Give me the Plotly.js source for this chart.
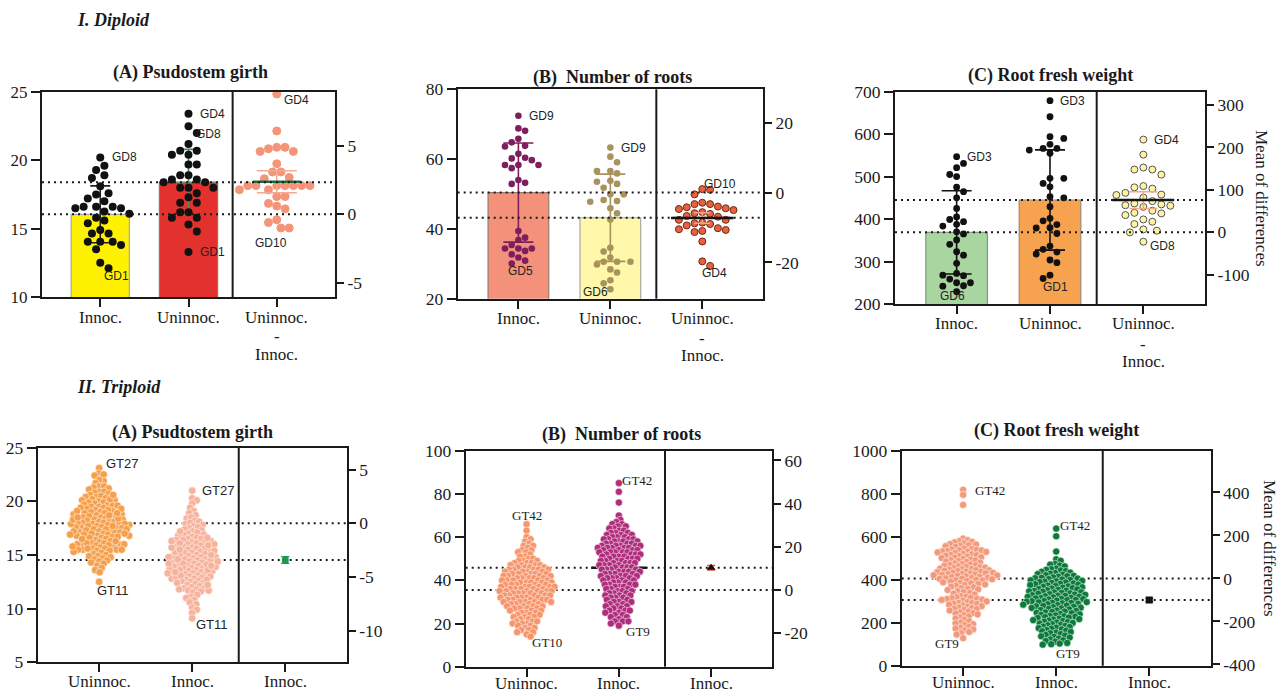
<!DOCTYPE html>
<html><head><meta charset="utf-8">
<script src="https://cdn.plot.ly/plotly-3.0.1.min.js"></script>
<style>html,body{margin:0;padding:0;background:#fff}#chart{width:1282px;height:693px}</style>
</head><body><div id="chart"></div>
<script>
// ---------------- DATA ----------------
const catsDip = ['Innoc.', 'Uninnoc.', 'Uninnoc.<br>-<br>Innoc.'];
const catsTri = ['Uninnoc.', 'Innoc.', 'Innoc.'];

// I. Diploid (A) Psudostem girth
const dipGirthInnoc = [20.2,19.6,19.3,18.9,18.7,18.1,17.6,17.5,17.2,17.0,16.6,16.6,16.6,16.5,16.5,16.25,16.1,15.8,15.6,15.4,14.9,14.65,14.65,14.05,14.05,14.05,13.8,13.5,12.5,12.1];
const dipGirthUninnoc = [23.4,22.5,22.0,21.2,20.7,20.7,20.4,20.4,19.7,19.7,18.9,18.9,18.6,18.6,18.4,18.4,18.0,18.0,18.0,17.6,17.3,16.9,16.9,16.2,16.2,15.8,15.8,15.3,14.8,13.3];
const dipGirthDiff = [8.8,6.1,4.9,4.9,4.8,4.6,4.6,3.7,3.1,3.1,2.7,2.6,2.1,2.1,2.1,2.1,2.1,2.1,2.1,1.8,1.8,1.3,1.3,0.8,0.6,0.4,-0.4,-0.6,-1.0,-1.0];
const dipGirthMeans = [16.05, 18.4];
const dipGirthSD = [2.08, 2.4];
const dipGirthDiffMean = 2.38, dipGirthDiffErr = 0.8;

// I. Diploid (B) Number of roots
const dipRootsInnoc = [72.4,68.1,68.8,64.8,65.8,63.6,63.8,61.5,60.2,59.7,60.4,58.3,58.3,58.3,57.4,54.0,53.2,52.9,39.4,37.5,36.8,35.4,34.4,34.4,34.4,33.7,32.7,31.8,30.9,30.1];
const dipRootsUninnoc = [63.3,60.7,59.1,56.6,56.6,55.9,53.5,52.9,51.8,53.8,49.9,49.9,48.3,47.8,48.0,45.9,44.5,42.7,34.6,33.5,31.8,30.6,30.6,30.6,29.8,28.4,27.5,25.3,24.4,22.7];
const dipRootsDiff = [0.8,1.0,-0.5,-2.9,-3.3,-3.3,-4.0,-4.2,-4.5,-4.7,-5.0,-5.6,-5.9,-6.1,-6.7,-6.9,-7.8,-7.8,-8.6,-8.8,-9.0,-9.4,-10.2,-10.5,-10.7,-11.0,-11.3,-14.0,-19.7,-21.0];
const dipRootsMeans = [50.4, 43.2];
const dipRootsSD = [14.2, 12.5];
const dipRootsDiffMean = -7.3, dipRootsDiffErr = 1.5;

// I. Diploid (C) Root fresh weight
const dipWtInnoc = [546.9,531,521,505,500,475,464.5,450,425,405,399,394,387.6,383.6,370,365,350.7,340.5,323,315,295.7,266.7,268,272,258.8,250,250,242,243,229];
const dipWtUninnoc = [678.8,641,594,590,576,566.5,566.5,562.6,555,496,496,484,476,452.7,450,429,401.7,396,379,379.7,387,366,336.5,328.7,322.4,317.7,303.6,297.3,268,260];
const dipWtDiff = [218.5,183,152.7,148,148,136,109,106,103,93,89,88,82,73.6,68,65.8,64,62.6,60,51,46,44.6,40.7,30.5,25,19.6,7,4,0,-22];
const dipWtMeans = [368.7, 444.9];
const dipWtSD = [98, 118];
const dipWtDiffMean = 76, dipWtDiffErr = 19.5;

// II. Triploid (A) Psudtostem girth
const triGirthUninnoc = [23.1,22.6,22.4,22.5,21.9,22.0,21.7,21.4,21.3,21.4,21.1,21.2,20.9,20.8,20.9,20.6,20.7,20.4,20.5,20.3,20.4,20.1,20.2,20.0,19.9,20.1,19.8,19.7,19.9,19.6,19.5,19.7,19.4,19.5,19.3,19.2,19.4,19.1,19.0,19.2,18.9,19.0,18.8,18.9,18.7,18.6,18.8,18.5,18.6,18.4,18.3,18.5,18.2,18.3,18.1,18.2,18.0,18.1,17.9,18.0,17.8,17.9,17.7,17.8,17.6,17.9,17.5,17.7,17.4,17.6,17.3,17.5,17.2,17.4,17.1,17.3,17.0,17.2,16.9,17.1,16.8,17.0,16.7,16.9,16.6,16.8,16.5,16.7,16.4,16.6,16.3,16.2,16.1,16.0,16.0,16.1,15.9,16.0,15.8,15.9,16.0,15.7,15.6,15.5,15.6,15.5,15.4,15.5,15.3,15.4,15.2,15.1,15.0,14.9,14.8,14.9,14.7,14.6,14.5,14.3,14.4,14.2,14.0,13.8,13.6,13.4,12.5,18.4,18.0,17.6,17.2,16.8,18.7,19.1,19.6,16.1,15.6,17.9,18.3,17.4,16.5,19.3,18.9,17.0,16.3,15.8,20.2,20.6,18.5,17.7,16.9,15.5];
const triGirthInnoc = [21.0,20.3,20.1,19.8,19.4,19.1,18.9,18.7,18.4,18.5,18.2,18.1,17.9,18.0,17.7,17.8,17.5,17.6,17.3,17.4,17.2,17.0,17.1,16.9,16.8,16.7,16.9,16.5,16.6,16.4,16.5,16.3,16.2,16.4,16.1,16.0,16.2,15.9,15.8,16.0,15.7,15.6,15.8,15.5,15.4,15.6,15.3,15.2,15.4,15.1,15.0,15.2,14.9,14.8,15.0,14.7,14.6,14.8,14.5,14.4,14.6,14.3,14.2,14.4,14.1,14.0,14.2,13.9,13.8,14.0,13.7,13.6,13.8,13.5,13.4,13.6,13.3,13.2,13.5,13.1,13.0,13.2,12.9,12.8,13.0,12.7,12.6,12.8,12.5,12.4,12.6,12.3,12.2,12.0,12.1,11.9,11.8,11.7,11.9,11.6,11.5,11.7,11.3,11.1,11.0,10.8,10.6,10.4,10.1,9.9,9.6,9.1,14.5,14.1,13.7,14.9,15.3,13.9,13.3,14.4,15.0,15.7,16.1,12.9,13.6,14.8,14.2,16.6,12.4,13.1,15.5,14.0,17.2,12.7,11.8,15.9,13.4,14.6,16.3,12.2];
const triGirthMeans = [17.95, 14.53];
const triGirthDiff = -3.42, triGirthDiffErr = 0.3;

// II. Triploid (B) Number of roots
const triRootsUninnoc = [66,63,60,59,58,57,56,56,55,54,54,53,53,52,51,51,50,50,49,49,49,48,48,48,47,47,47,47,46,46,46,46,45,45,45,45,45,44,44,44,44,43,43,43,43,43,42,42,42,42,42,41,41,41,41,41,40,40,40,40,40,39,39,39,39,39,38,38,38,38,38,37,37,37,37,37,37,36,36,36,36,36,35,35,35,35,35,35,34,34,34,34,34,33,33,33,33,33,32,32,32,32,32,31,31,31,31,31,30,30,30,30,30,29,29,29,29,28,28,28,28,27,27,27,27,26,26,26,25,25,25,24,24,24,23,23,23,22,22,21,21,21,20,20,20,19,19,18,18,17,17,16,16,15,14];
const triRootsInnoc = [85,81,76,70,68,67,66,66,65,65,64,64,63,63,62,62,62,61,61,61,60,60,60,59,59,59,59,58,58,58,58,57,57,57,57,56,56,56,56,56,55,55,55,55,55,54,54,54,54,53,53,53,53,53,52,52,52,52,51,51,51,51,50,50,50,50,49,49,49,49,48,48,48,48,47,47,47,47,46,46,46,46,45,45,45,45,44,44,44,44,43,43,43,43,42,42,42,42,41,41,41,41,40,40,40,39,39,39,38,38,38,38,37,37,37,36,36,36,35,35,35,34,34,34,33,33,33,32,32,32,31,31,30,30,30,29,29,28,28,28,27,27,26,26,26,25,25,24,24,23,23,22,21,21,21,20,19];
const triRootsMeans = [35.5, 45.8];
const triRootsDiff = 10.3, triRootsDiffErr = 1.0;

// II. Triploid (C) Root fresh weight
const triWtUninnoc = [818,795,748,591,584,579,576,574,570,566,563,560,558,556,553,545,543,541,539,537,536,534,532,531,529,527,525,521,518,516,514,512,510,508,505,503,501,497,494,492,490,487,485,483,480,476,473,471,469,467,465,462,460,458,456,454,452,450,449,447,445,444,442,440,438,437,435,433,432,430,429,427,426,424,423,421,420,418,416,414,412,410,408,407,405,404,402,400,398,397,395,391,388,385,383,380,378,375,372,368,365,361,358,355,352,347,343,339,335,331,324,321,318,316,314,312,310,308,306,303,299,296,293,291,289,287,284,281,277,274,271,268,265,263,260,257,252,248,245,242,239,236,229,224,219,214,206,201,197,193,189,181,177,173,169,165,157,151,145,128];
const triWtInnoc = [638,602,531,495,488,474,470,466,462,452,449,446,443,440,437,433,431,428,426,423,421,418,416,414,411,409,407,405,403,401,399,397,395,393,391,389,387,385,383,381,379,377,375,373,371,369,367,365,363,361,359,357,355,353,351,349,348,346,344,342,341,339,337,335,333,331,330,328,326,325,323,321,320,318,316,315,313,311,310,308,306,305,303,301,300,298,296,295,293,292,290,288,286,284,282,280,278,276,274,272,270,269,267,264,262,259,257,255,252,250,248,246,244,241,239,237,234,232,230,228,226,224,222,219,217,215,212,210,208,205,203,201,199,196,193,190,188,185,182,180,177,175,172,169,166,163,160,157,154,151,147,143,140,137,134,131,126,122,118,115,112,106,103,100,98];
const triWtMeans = [406, 305.4];
const triWtDiff = -100.6, triWtDiffErr = 8;

// axis ticks
const tickGirthDip = [10,15,20,25], tickGirthDipR = [-5,0,5];
const tickRootsDip = [20,40,60,80], tickRootsDipR = [-20,0,20];
const tickWtDip = [200,300,400,500,600,700], tickWtDipR = [-100,0,100,200,300];
const tickGirthTri = [5,10,15,20,25], tickGirthTriR = [-10,-5,0,5];
const tickRootsTri = [0,20,40,60,80,100], tickRootsTriR = [-20,0,20,40,60];
const tickWtTri = [0,200,400,600,800,1000], tickWtTriR = [-400,-200,0,200,400];

// ---------------- STYLE / LAYOUT ----------------
const W = 1282, H = 693;
const XR = [-0.66, 2.66];
const SERIF = '"Liberation Serif", "Times New Roman", serif';
const SANS = '"Liberation Sans", Arial, sans-serif';
const INK = '#1a1a1a';

const panels = [
  { box:[42,92,335,297], yRange:[10,25], lt:tickGirthDip, rt:tickGirthDipR, cats:catsDip, kind:'dip', tickFs:17, labOff:[20,40,57],
    title:'(A) Psudostem girth', tpos:[190,73],
    groups:[
      {vals:dipGirthInnoc, mean:dipGirthMeans[0], sd:dipGirthSD[0], bar:'#FFF200', barLine:'#A8A8A8', dot:'#111111', err:'#222222', cap:10},
      {vals:dipGirthUninnoc, mean:dipGirthMeans[1], sd:dipGirthSD[1], bar:'#E3312D', barLine:'#5E8F6A', dot:'#111111', err:'#4E8A5C', cap:10}],
    dotSize:8, D:8.3, step:4.15,
    diff:{vals:dipGirthDiff, mean:dipGirthDiffMean, err:dipGirthDiffErr, dot:'#F4957A', dotLine:'#F4957A', size:8, D:8.3, step:4.15, meanColor:'#1E6B3C', errColor:'#F6A98F', half:0.27, cap:20},
    labels:[['GD8',0.11,20.22,'left'],['GD1',0.02,11.54,'left'],['GD4',1.105,23.39,'left'],['GD8',1.06,21.93,'left'],['GD1',1.105,13.3,'left'],['GD4',2.06,24.41,'left'],['GD10',1.935,13.98,'center']],
    labFont:SANS, labFs:12 },
  { box:[457.7,89.3,763,298.7], yRange:[20,80], lt:tickRootsDip, rt:tickRootsDipR, cats:catsDip, kind:'dip', tickFs:17.5, labOff:[20,40,57],
    title:'(B)\u00a0 Number of roots', tpos:[612,77],
    groups:[
      {vals:dipRootsInnoc, mean:dipRootsMeans[0], sd:dipRootsSD[0], bar:'#F4917A', barLine:'#9A7A70', dot:'#7D1F5E', err:'#7D1F5E', cap:15},
      {vals:dipRootsUninnoc, mean:dipRootsMeans[1], sd:dipRootsSD[1], bar:'#FFF7AA', barLine:'#A8A8A0', dot:'#A8925E', err:'#A8925E', cap:15}],
    dotSize:6.6, D:7, step:6.7,
    diff:{vals:dipRootsDiff, mean:dipRootsDiffMean, err:dipRootsDiffErr, dot:'#E8603C', dotLine:'#6A2A1A', size:7, D:7.8, step:3.9, meanColor:'#111111', errColor:'#F4A58A', half:0.34, cap:8},
    labels:[['GD9',0.095,72.35,'left'],['GD5',0.02,28.0,'center'],['GD9',1.09,63.1,'left'],['GD6',0.84,22.0,'center'],['GD10',2.0,52.9,'left'],['GD4',1.97,27.3,'left']],
    labFont:SANS, labFs:12 },
  { box:[895,91.7,1205,304], yRange:[200,700], lt:tickWtDip, rt:tickWtDipR, cats:catsDip, kind:'dip', tickFs:17.5, labOff:[20,40,57],
    title:'(C) Root fresh weight', tpos:[1050,75], rtitle:[1262,198],
    groups:[
      {vals:dipWtInnoc, mean:dipWtMeans[0], sd:dipWtSD[0], bar:'#A8D5A0', barLine:'#7A9A78', dot:'#111111', err:'#111111', cap:15},
      {vals:dipWtUninnoc, mean:dipWtMeans[1], sd:dipWtSD[1], bar:'#F7A24E', barLine:'#9A8A7A', dot:'#111111', err:'#111111', cap:15}],
    dotSize:6.8, D:7.2, step:6.9,
    diff:{vals:dipWtDiff, mean:dipWtDiffMean, err:dipWtDiffErr, dot:'#FFF3A0', dotLine:'#555555', size:7, D:9, step:4.5, meanColor:'#111111', errColor:'#F4A58A', half:0.33, cap:14},
    labels:[['GD3',0.09,547,'left'],['GD6',-0.04,219,'center'],['GD3',1.09,678.8,'left'],['GD1',1.06,240.8,'center'],['GD4',2.09,586,'left'],['GD8',2.05,337,'left']],
    labFont:SANS, labFs:12 },
  { box:[37.7,447.7,346.7,662.3], yRange:[5,25], lt:tickGirthTri, rt:tickGirthTriR, cats:catsTri, kind:'tri', tickFs:17.5, labOff:[19],
    title:'(A) Psudtostem girth', tpos:[192,432],
    groups:[{vals:triGirthUninnoc, mean:triGirthMeans[0], dot:'#F6A04C'}, {vals:triGirthInnoc, mean:triGirthMeans[1], dot:'#F7B39C'}],
    dotSize:7.5, D:4.6, step:0.5,
    diff:{val:triGirthDiff, err:triGirthDiffErr, color:'#1A9A4A', line:'#1A9A4A', symbol:'circle', size:7, errColor:'#1A9A4A'},
    labels:[['GT27',0.05,23.55,'left'],['GT11',-0.04,11.67,'left'],['GT27',1.08,20.99,'left'],['GT11',1.015,8.48,'left']],
    labFont:SANS, labFs:13 },
  { box:[465.7,450.7,772,666.7], yRange:[0,100], lt:tickRootsTri, rt:tickRootsTriR, cats:catsTri, kind:'tri', tickFs:17.5, labOff:[17],
    title:'(B)\u00a0 Number of roots', tpos:[621,435],
    groups:[{vals:triRootsUninnoc, mean:triRootsMeans[0], dot:'#F7956C'}, {vals:triRootsInnoc, mean:triRootsMeans[1], dot:'#B02C7C'}],
    dotSize:7.2, D:4.5, step:0.5,
    diff:{val:triRootsDiff, err:triRootsDiffErr, color:'#111111', line:'#111111', symbol:'triangle-up', size:8, errColor:'#E84A3A'},
    labels:[['GT42',0,69.9,'center'],['GT10',0.035,11.1,'left'],['GT42',1.01,86.4,'left'],['GT9',1.06,16.2,'left']],
    labFont:SERIF, labFs:13 },
  { box:[901.7,450.7,1210.7,665.7], yRange:[0,1000], lt:tickWtTri, rt:tickWtTriR, cats:catsTri, kind:'tri', tickFs:17.5, labOff:[17],
    title:'(C) Root fresh weight', tpos:[1056,430], rtitle:[1270,548],
    groups:[{vals:triWtUninnoc, mean:triWtMeans[0], dot:'#F49A7C'}, {vals:triWtInnoc, mean:triWtMeans[1], dot:'#0B7A3B'}],
    dotSize:7.2, D:4.6, step:0.5,
    diff:{val:triWtDiff, err:triWtDiffErr, color:'#111111', line:'#111111', symbol:'square', size:7, errColor:'#555555'},
    labels:[['GT42',0.11,817,'left'],['GT9',-0.32,104,'left'],['GT42',1.02,654,'left'],['GT9',0.98,57.7,'left']],
    labFont:SERIF, labFs:13 }
];

// beeswarm: x offsets (px) computed from values in pixel space
function swarm(vals, pxY, D, step) {
  const order = vals.map((v, i) => i).sort((a, b) => vals[b] - vals[a]);
  const placed = [];
  const off = new Array(vals.length).fill(0);
  let flip = 1;
  for (const i of order) {
    const y = vals[i] * pxY;
    const near = placed.filter(p => Math.abs(p.y - y) < D);
    const free = c => near.every(p => (p.x - c) * (p.x - c) + (p.y - y) * (p.y - y) >= D * D - 1e-6);
    let c = 0;
    if (!free(0)) {
      for (let t = 1; t < 4000; t++) {
        const a = flip * t * step, b = -flip * t * step;
        if (free(a)) { c = a; break; }
        if (free(b)) { c = b; break; }
      }
      flip = -flip;
    }
    placed.push({x: c, y: y});
    off[i] = c;
  }
  return off;
}

const traces = [];
const layout = {
  width: W, height: H, margin: {l:0, r:0, t:0, b:0},
  paper_bgcolor: '#fff', plot_bgcolor: 'rgba(0,0,0,0)', showlegend: false,
  font: {family: SERIF, color: INK},
  shapes: [], annotations: []
};

const sfx = i => (i === 1 ? '' : String(i));

panels.forEach((p, k) => {
  const i = k + 1, ri = k + 7;
  const xa = 'x' + sfx(i), ya = 'y' + sfx(i), yr = 'y' + ri;
  const [x0, y0, x1, y1] = p.box;
  const pxX = (x1 - x0) / (XR[1] - XR[0]);
  const pxY = (y1 - y0) / (p.yRange[1] - p.yRange[0]);
  const m0 = p.groups[0].mean;
  const dom = {x: [x0 / W, x1 / W], y: [1 - y1 / H, 1 - y0 / H]};

  layout['xaxis' + sfx(i)] = {
    domain: dom.x, range: XR, anchor: ya, tickmode: 'array', tickvals: [0, 1, 2], showticklabels: false,
    ticks: 'outside', ticklen: 8, tickwidth: 2, tickcolor: INK, showline: true, linewidth: 2, linecolor: INK,
    mirror: true, showgrid: false, zeroline: false, fixedrange: true
  };
  layout['yaxis' + sfx(i)] = {
    domain: dom.y, range: p.yRange, anchor: xa, tickmode: 'array', tickvals: p.lt, ticktext: p.lt.map(String),
    ticks: 'outside', ticklen: 9, tickwidth: 2, tickcolor: INK, showline: true, linewidth: 2, linecolor: INK,
    mirror: true, showgrid: false, zeroline: false, tickfont: {family: SERIF, size: p.tickFs, color: INK}, fixedrange: true
  };
  layout['yaxis' + ri] = {
    overlaying: ya, side: 'right', anchor: xa, range: [p.yRange[0] - m0, p.yRange[1] - m0],
    tickmode: 'array', tickvals: p.rt, ticktext: p.rt.map(String),
    ticks: 'outside', ticklen: 8, tickwidth: 2, tickcolor: INK, showline: false, showgrid: false, zeroline: false,
    tickfont: {family: SERIF, size: 17.5, color: INK}, fixedrange: true
  };

  // category labels under the axis (line by line)
  p.cats.forEach((c, ci) => {
    const lines = c.split('<br>');
    lines.forEach((ln, li) => {
      layout.annotations.push({xref: xa, yref: 'paper', x: ci, y: 1 - (y1 + p.labOff[li]) / H,
        xanchor: 'center', yanchor: 'middle', showarrow: false, text: ln,
        font: {family: SERIF, size: 17, color: INK}});
    });
  });

  // reference mean dotted lines + divider
  p.groups.forEach(g => {
    layout.shapes.push({type: 'line', xref: xa + ' domain', yref: ya, x0: 0, x1: 1, y0: g.mean, y1: g.mean,
      line: {color: INK, width: 2, dash: '2px,4px'}, layer: p.kind === 'dip' ? 'above' : 'below'});
  });
  layout.shapes.push({type: 'line', xref: xa, yref: ya + ' domain', x0: 1.5, x1: 1.5, y0: 0, y1: 1,
    line: {color: INK, width: 2}, layer: 'above'});

  if (p.kind === 'dip') {
    traces.push({type: 'bar', x: [0, 1], y: p.groups.map(g => g.mean), width: 0.66, xaxis: xa, yaxis: ya,
      marker: {color: p.groups.map(g => g.bar), line: {color: p.groups.map(g => g.barLine), width: 1.2}}, hoverinfo: 'skip'});
    p.groups.forEach((g, gi) => {
      traces.push({type: 'scatter', mode: 'markers', x: [gi], y: [g.mean], xaxis: xa, yaxis: ya,
        marker: {size: 1, opacity: 0}, hoverinfo: 'skip',
        error_y: {type: 'data', array: [g.sd], visible: true, color: g.err, thickness: 1.6, width: g.cap}});
    });
    p.groups.forEach((g, gi) => {
      const off = swarm(g.vals, pxY, p.D, p.step);
      traces.push({type: 'scatter', mode: 'markers', x: g.vals.map((v, j) => gi + off[j] / pxX), y: g.vals,
        xaxis: xa, yaxis: ya, cliponaxis: false, hoverinfo: 'skip',
        marker: {size: p.dotSize, color: g.dot, line: {width: 0}}});
    });
    const d = p.diff;
    const offd = swarm(d.vals, pxY, d.D, d.step);
    traces.push({type: 'scatter', mode: 'markers', x: d.vals.map((v, j) => 2 + offd[j] / pxX), y: d.vals,
      xaxis: xa, yaxis: yr, cliponaxis: false, hoverinfo: 'skip',
      marker: {size: d.size, color: d.dot, line: {width: 1, color: d.dotLine}}});
    traces.push({type: 'scatter', mode: 'markers', x: [2], y: [d.mean], xaxis: xa, yaxis: yr,
      marker: {size: 1, opacity: 0}, hoverinfo: 'skip',
      error_y: {type: 'data', array: [d.err], visible: true, color: d.errColor, thickness: 1.5, width: d.cap}});
    traces.push({type: 'scatter', mode: 'lines', x: [2 - d.half, 2 + d.half], y: [d.mean, d.mean], xaxis: xa, yaxis: yr,
      line: {color: d.meanColor, width: 2.5}, hoverinfo: 'skip'});
  } else {
    p.groups.forEach((g, gi) => {
      traces.push({type: 'scatter', mode: 'lines', x: [gi - 0.3, gi + 0.3], y: [g.mean, g.mean], xaxis: xa, yaxis: ya,
        line: {color: INK, width: 2.5}, hoverinfo: 'skip'});
    });
    p.groups.forEach((g, gi) => {
      const off = swarm(g.vals, pxY, p.D, p.step);
      traces.push({type: 'scatter', mode: 'markers', x: g.vals.map((v, j) => gi + off[j] / pxX), y: g.vals,
        xaxis: xa, yaxis: ya, cliponaxis: false, hoverinfo: 'skip',
        marker: {size: p.dotSize, color: g.dot, line: {width: 0.7, color: 'rgba(255,255,255,0.75)'}}});
    });
    const d = p.diff;
    traces.push({type: 'scatter', mode: 'markers', x: [2], y: [d.val], xaxis: xa, yaxis: yr, hoverinfo: 'skip',
      marker: {size: d.size, color: d.color, symbol: d.symbol, line: {width: 0}},
      error_y: {type: 'data', array: [d.err], visible: true, color: d.errColor, thickness: 1.5, width: 4}});
  }

  // panel title
  layout.annotations.push({xref: 'paper', yref: 'paper', x: p.tpos[0] / W, y: 1 - p.tpos[1] / H,
    xanchor: 'center', yanchor: 'middle', showarrow: false, text: '<b>' + p.title + '</b>',
    font: {family: SERIF, size: 18, color: INK}});
  // point labels
  p.labels.forEach(l => {
    layout.annotations.push({xref: xa, yref: ya, x: l[1], y: l[2], xanchor: l[3], yanchor: 'middle',
      showarrow: false, text: l[0], font: {family: p.labFont, size: p.labFs, color: '#222'}});
  });
  if (p.rtitle) {
    layout.annotations.push({xref: 'paper', yref: 'paper', x: p.rtitle[0] / W, y: 1 - p.rtitle[1] / H,
      xanchor: 'center', yanchor: 'middle', showarrow: false, textangle: 90, text: 'Mean of differences',
      font: {family: SERIF, size: 17, color: INK}});
  }
});

// section labels
layout.annotations.push({xref: 'paper', yref: 'paper', x: 75 / W, y: 1 - 20 / H, xanchor: 'left', yanchor: 'middle',
  showarrow: false, text: '<b><i>I. Diploid</i></b>', font: {family: SERIF, size: 18, color: INK}});
layout.annotations.push({xref: 'paper', yref: 'paper', x: 75 / W, y: 1 - 387 / H, xanchor: 'left', yanchor: 'middle',
  showarrow: false, text: '<b><i>II. Triploid</i></b>', font: {family: SERIF, size: 18, color: INK}});

Plotly.newPlot('chart', traces, layout, {displayModeBar: false, staticPlot: true});
</script>
</body></html>
